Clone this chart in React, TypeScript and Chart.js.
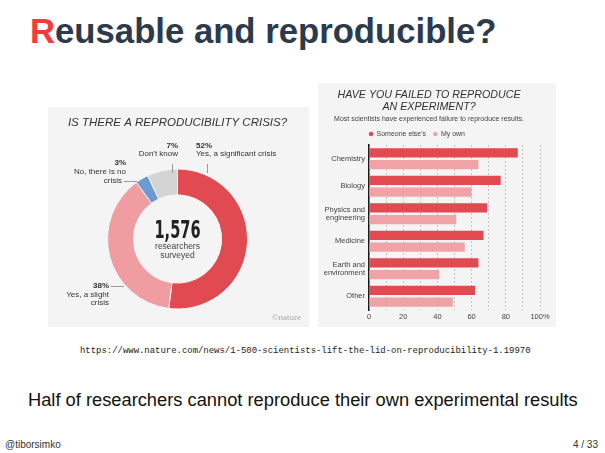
import React, { useEffect, useRef } from 'react';
import { Chart, registerables } from 'chart.js';

Chart.register(...registerables);

// ---------- data ----------
const crisisLabels = ['Yes, a significant crisis', 'Yes, a slight crisis', 'No, there is no crisis', "Don't know"];
const crisisValues = [52, 38, 3, 7];
const crisisColors = ['#e14a50', '#ef9da0', '#6a9bd3', '#d4d4d4'];
const surveyedCount = '1,576';
const surveyedCaption = ['researchers', 'surveyed'];

const fieldLabels = ['Chemistry', 'Biology', ['Physics and', 'engineering'], 'Medicine', ['Earth and', 'environment'], 'Other'];
const someoneElsesValues = [87, 77, 69, 67, 64, 62];
const myOwnValues = [64, 60, 51, 56, 41, 49];
const seriesNames = ["Someone else's", 'My own'];
const xTickLabels = [0, 20, 40, 60, 80, 100];

const SANS = '"Liberation Sans", Arial, sans-serif';
const PANEL_BG = '#f4f4f4';

function CrisisDonut() {
  const ref = useRef<HTMLCanvasElement>(null);
  useEffect(() => {
    if (!ref.current) return;
    const centerText = {
      id: 'centerText',
      afterDatasetsDraw(chart: any) {
        const arc = chart.getDatasetMeta(0).data[0];
        if (!arc) return;
        const { x, y } = arc;
        const ctx = chart.ctx;
        ctx.save();
        ctx.fillStyle = '#222';
        ctx.textAlign = 'center';
        ctx.textBaseline = 'middle';
        ctx.font = 'bold 24px "Liberation Sans Narrow", "DejaVu Sans Condensed", sans-serif';
        const w = ctx.measureText(surveyedCount).width;
        ctx.translate(x, y - 7.5);
        ctx.scale(46 / w, 1);
        ctx.fillText(surveyedCount, 0, 0);
        ctx.restore();
        ctx.save();
        ctx.fillStyle = '#444';
        ctx.textAlign = 'center';
        ctx.textBaseline = 'middle';
        ctx.font = '8.5px ' + SANS;
        ctx.fillText(surveyedCaption[0], x, y + 8);
        ctx.fillText(surveyedCaption[1], x, y + 16.5);
        ctx.restore();
      },
    };
    const chart = new Chart(ref.current, {
      type: 'doughnut',
      data: {
        labels: crisisLabels,
        datasets: [
          {
            data: crisisValues,
            backgroundColor: crisisColors,
            borderColor: PANEL_BG,
            borderWidth: 1,
          },
        ],
      },
      options: {
        animation: false,
        responsive: false,
        maintainAspectRatio: false,
        cutout: '63%',
        layout: { padding: { left: 0, right: 2, top: 0, bottom: 17.5 } },
        plugins: {
          legend: { display: false },
          tooltip: { enabled: false },
          title: {
            display: true,
            text: 'IS THERE A REPRODUCIBILITY CRISIS?',
            color: '#333',
            font: { family: SANS, size: 11.5, style: 'italic', weight: 'normal', lineHeight: 1.2 },
            padding: { top: 9.1, bottom: 38.6 },
          },
        },
      },
      plugins: [centerText],
    } as any);
    return () => chart.destroy();
  }, []);
  return <canvas ref={ref} width={261} height={220} style={{ display: 'block', width: 261, height: 220 }} />;
}

function FailureBars() {
  const ref = useRef<HTMLCanvasElement>(null);
  useEffect(() => {
    if (!ref.current) return;
    const alignLegendToAxis = {
      id: 'alignLegendToAxis',
      afterLayout(chart: any) {
        const lg = chart.legend;
        if (lg) lg.left = chart.chartArea.left - lg.options.labels.padding;
      },
    };
    const chart = new Chart(ref.current, {
      type: 'bar',
      data: {
        labels: fieldLabels,
        datasets: [
          {
            label: seriesNames[0],
            data: someoneElsesValues,
            backgroundColor: '#e14a50',
            barPercentage: 0.8,
            categoryPercentage: 0.85,
          },
          {
            label: seriesNames[1],
            data: myOwnValues,
            backgroundColor: '#f0a3a6',
            barPercentage: 0.8,
            categoryPercentage: 0.85,
          },
        ],
      },
      options: {
        indexAxis: 'y',
        animation: false,
        responsive: false,
        maintainAspectRatio: false,
        layout: { padding: { left: 0, right: 16, top: 0, bottom: 4 } },
        scales: {
          x: {
            min: 0,
            max: 100,
            ticks: {
              stepSize: 10,
              autoSkip: false,
              maxRotation: 0,
              padding: 2,
              color: '#444',
              font: { family: SANS, size: 7.5 },
              callback: (v: any) => (xTickLabels.includes(v) ? (v === 100 ? '100%' : String(v)) : ''),
            },
            grid: { color: '#b8b8b8', lineWidth: 0.8, drawTicks: false },
            border: { display: false, dash: [2, 2] },
          },
          y: {
            grid: { display: false, drawTicks: false },
            border: { display: true, color: '#1a1a1a', width: 1.5 },
            ticks: { padding: 4, color: '#444', font: { family: SANS, size: 7.5, lineHeight: 1.1 } },
            afterFit: (s: any) => {
              s.width = 51;
            },
          },
        },
        plugins: {
          tooltip: { enabled: false },
          title: {
            display: true,
            text: ['HAVE YOU FAILED TO REPRODUCE', 'AN EXPERIMENT?'],
            color: '#333',
            font: { family: SANS, size: 10.7, style: 'italic', weight: 'normal', lineHeight: 1.12 },
            padding: { top: 6, bottom: 0 },
          },
          subtitle: {
            display: true,
            text: 'Most scientists have experienced failure to reproduce results.',
            color: '#444',
            font: { family: SANS, size: 7, lineHeight: 1.2 },
            padding: { top: 1.8, bottom: 0 },
          },
          legend: {
            display: true,
            position: 'top',
            align: 'start',
            maxHeight: 21.8,
            labels: {
              usePointStyle: true,
              pointStyle: 'circle',
              boxWidth: 4,
              boxHeight: 3.2,
              padding: 7.3,
              color: '#444',
              font: { family: SANS, size: 7 },
            },
          },
        },
      },
      plugins: [alignLegendToAxis],
    } as any);
    return () => chart.destroy();
  }, []);
  return <canvas ref={ref} width={238} height={244} style={{ display: 'block', width: 238, height: 244 }} />;
}

type TxtProps = {
  x: number;
  y: number;
  text: string;
  size?: number;
  bold?: boolean;
  align?: 'left' | 'right';
  color?: string;
  family?: string;
};

function Txt({ x, y, text, size = 8, bold = false, align = 'left', color = '#333', family = SANS }: TxtProps) {
  const style: React.CSSProperties = {
    position: 'absolute',
    top: y - size * 0.62,
    fontSize: size,
    lineHeight: `${size * 1.2}px`,
    fontWeight: bold ? 'bold' : 'normal',
    color,
    fontFamily: family,
    whiteSpace: 'nowrap',
  };
  if (align === 'right') style.right = 605 - x;
  else style.left = x;
  return <div style={style}>{text}</div>;
}

function Line({ x, y, w, h }: { x: number; y: number; w: number; h: number }) {
  return <div style={{ position: 'absolute', left: x, top: y, width: w, height: h, background: '#9a9a9a' }} />;
}

export default function App() {
  return (
    <div
      style={{
        position: 'absolute',
        left: 0,
        top: 0,
        width: 605,
        height: 453,
        background: '#fff',
        overflow: 'hidden',
        fontFamily: SANS,
      }}
    >
      <div
        style={{
          position: 'absolute',
          left: 30,
          top: 14,
          fontSize: 34.7,
          lineHeight: '34.7px',
          fontWeight: 'bold',
          color: '#2c3a4c',
          whiteSpace: 'nowrap',
        }}
      >
        <span style={{ color: '#f23c3c' }}>R</span>eusable and reproducible?
      </div>

      <div style={{ position: 'absolute', left: 48, top: 107, width: 261, height: 220, background: PANEL_BG }}>
        <CrisisDonut />
      </div>

      {/* donut annotations */}
      <Txt x={178} y={146} text="7%" bold align="right" />
      <Txt x={178} y={153.5} text="Don't know" align="right" />
      <Txt x={196} y={146} text="52%" bold />
      <Txt x={196} y={153.5} text="Yes, a significant crisis" />
      <Txt x={126} y={163} text="3%" bold align="right" />
      <Txt x={126} y={172} text="No, there is no" align="right" />
      <Txt x={122} y={181} text="crisis" align="right" />
      <Txt x={109} y={286} text="38%" bold align="right" />
      <Txt x={109} y={294.5} text="Yes, a slight" align="right" />
      <Txt x={109} y={303} text="crisis" align="right" />
      <Line x={172} y={164} w={0.8} h={9} />
      <Line x={206.5} y={164} w={0.8} h={9} />
      <Line x={124} y={181} w={13} h={0.8} />
      <Line x={111} y={286} w={13} h={0.8} />
      <Txt x={301} y={318} text="©nature" align="right" size={9} color="#aaa" family='"Liberation Serif", "DejaVu Serif", serif' />

      <div style={{ position: 'absolute', left: 318, top: 83, width: 238, height: 244, background: PANEL_BG }}>
        <FailureBars />
      </div>

      <Txt
        x={80}
        y={352}
        text="https://www.nature.com/news/1-500-scientists-lift-the-lid-on-reproducibility-1.19970"
        size={8.95}
        color="#222"
        family='"Liberation Mono", "DejaVu Sans Mono", monospace'
      />
      <Txt x={28} y={400} text="Half of researchers cannot reproduce their own experimental results" size={18.3} color="#111" />
      <Txt x={5} y={445} text="@tiborsimko" size={10} color="#333" />
      <Txt x={598} y={445} text="4 / 33" size={10} color="#333" align="right" />
    </div>
  );
}
